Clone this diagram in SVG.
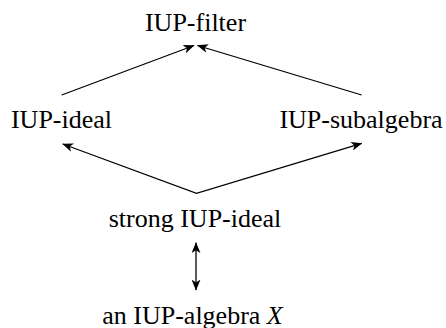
<svg xmlns="http://www.w3.org/2000/svg" width="446" height="328" viewBox="0 0 446 328">
<style>
text{font-family:"Liberation Serif","Times New Roman",serif;font-size:26px;fill:#000;text-anchor:middle}
.e{stroke:#000;stroke-width:1.3;fill:none}
</style>
<defs>
<marker id="ah" viewBox="0 0 11 9" refX="10.5" refY="4.5" markerWidth="11" markerHeight="9" markerUnits="userSpaceOnUse" orient="auto-start-reverse">
<path d="M0,0 L11,4.5 L0,9 L3,4.5 z" fill="#000"/>
</marker>
</defs>
<rect width="446" height="328" fill="#fff"/>
<g id="filter"><text x="195.5" y="31">IUP-filter</text></g>
<g id="ideal"><text x="61.5" y="128">IUP-ideal</text></g>
<g id="subalgebra"><text x="361" y="128">IUP-subalgebra</text></g>
<g id="strong"><text x="195" y="227">strong IUP-ideal</text></g>
<g id="algebra"><text x="192.5" y="323.5">an IUP-algebra <tspan font-style="italic">X</tspan></text></g>
<g id="connectors">
<path class="e" d="M61.7,95 L194,45.5" marker-end="url(#ah)"/>
<path class="e" d="M361.7,95 L197.5,45.5" marker-end="url(#ah)"/>
<path class="e" d="M62.7,144 L196.5,193.3 L361.7,143.3" marker-start="url(#ah)" marker-end="url(#ah)"/>
<path class="e" d="M196,242.7 L196,290" marker-start="url(#ah)" marker-end="url(#ah)"/>
</g>
</svg>
